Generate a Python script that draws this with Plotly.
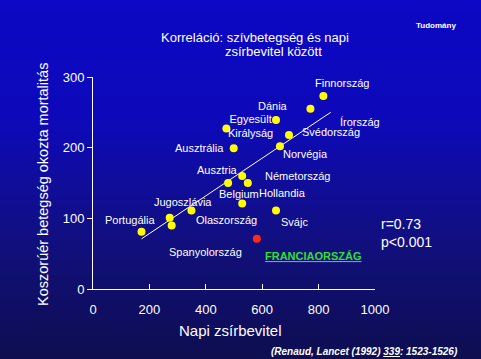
import plotly.graph_objects as go
import numpy as np

# ---- data ----
countries = ["Finnország", "Írország", "Dánia", "Egyesült<br>Királyság", "Svédország",
             "Ausztrália", "Norvégia", "Ausztria", "Belgium", "Németország", "Hollandia",
             "Svájc", "Jugoszlávia", "Olaszország", "Spanyolország", "Portugália"]
fat_intake = [817, 771, 649, 473, 695, 499, 663, 529, 479, 549, 529, 649, 349, 272, 279, 172]
chd_mortality = [273, 255, 239, 227, 218, 199, 202, 160, 150, 150, 121, 111, 111, 101, 90, 81]

france_name = "FRANCIAORSZÁG"
france_fat = [581]
france_chd = [71]

fit_x = [172, 843]
fit_y = [71, 250]

x_ticks = [0, 200, 400, 600, 800, 1000]
y_ticks = [0, 100, 200, 300]

# ---- label pixel offsets (styling) ----
label_offsets = {
    "Finnország": (19, -13), "Írország": (50, 13), "Dánia": (-3, -14),
    "Egyesült<br>Királyság": (24, -3), "Svédország": (42, -3), "Ausztrália": (-34, 0),
    "Norvégia": (26, 8), "Ausztria": (-25, -6), "Belgium": (11, 11),
    "Németország": (50, -7), "Hollandia": (40, -10), "Svájc": (18, 11),
    "Jugoszlávia": (-8, -9), "Olaszország": (57, 2), "Spanyolország": (34, 27),
    "Portugália": (-12, -12),
}

W, H = 481, 359
L, R, T, B = 93, 106, 77, 70
pw, ph = W - L - R, H - T - B

def px(xp):  # pixel x -> paper
    return (xp - L) / pw

def py(yp):  # pixel y -> paper
    return (H - B - yp) / ph

FONT = "Liberation Sans, Arial, sans-serif"

fig = go.Figure()

# gradient background
stops_y = [0, 120, 240, 359]
stops_c = [(12, 8, 196), (14, 10, 186), (18, 16, 128), (14, 14, 80)]
shapes = []
step = 5
for y0 in range(0, H, step):
    ym = y0 + step / 2
    c = [int(np.interp(ym, stops_y, [s[i] for s in stops_c])) for i in range(3)]
    shapes.append(dict(type="rect", xref="paper", yref="paper",
                       x0=px(-2), x1=px(W + 2), y0=py(y0 + step + 0.5), y1=py(y0 - (2 if y0 == 0 else 0)),
                       fillcolor=f"rgb({c[0]},{c[1]},{c[2]})", line=dict(width=0),
                       layer="below"))

fig.add_trace(go.Scatter(x=fit_x, y=fit_y, mode="lines",
                         line=dict(color="white", width=1), hoverinfo="skip"))
fig.add_trace(go.Scatter(x=fat_intake, y=chd_mortality, mode="markers",
                         marker=dict(color="#FFFF00", size=8, symbol="circle"),
                         text=countries))
fig.add_trace(go.Scatter(x=france_fat, y=france_chd, mode="markers",
                         marker=dict(color="#FF2A10", size=8, symbol="circle"),
                         text=[france_name]))

annotations = []
for name, xv, yv in zip(countries, fat_intake, chd_mortality):
    dx, dy = label_offsets[name]
    annotations.append(dict(x=xv, y=yv, xref="x", yref="y", text=name, showarrow=False,
                            xanchor="center", yanchor="middle",
                            xshift=dx, yshift=-dy,
                            font=dict(family=FONT, size=11, color="white")))
annotations.append(dict(x=france_fat[0], y=france_chd[0], xref="x", yref="y",
                        text=f"<b><u>{france_name}</u></b>", showarrow=False,
                        xanchor="center", yanchor="middle",
                        xshift=57, yshift=-17,
                        font=dict(family=FONT, size=11, color="#2EE02E")))

def ptext(xp, yp, text, size, xanchor="center", angle=0):
    return dict(x=px(xp), y=py(yp), xref="paper", yref="paper", showarrow=False,
                xanchor=xanchor, yanchor="middle", text=text, textangle=angle,
                font=dict(family=FONT, size=size, color="white"))

annotations += [
    ptext(254.5, 37, "Korreláció: szívbetegség és napi", 13),
    ptext(273, 52, "zsírbevitel között", 13),
    ptext(435.5, 25, "<b>Tudomány</b>", 8),
    ptext(43, 185, "Koszorúér betegség okozta mortalitás", 14.5, angle=-90),
    ptext(230, 330, "Napi zsírbevitel", 15),
    ptext(379, 224, "r=0.73", 14, xanchor="left"),
    ptext(379, 242, "p<0.001", 14, xanchor="left"),
    ptext(364, 351, "<b><i>(Renaud, Lancet (1992) <u>339</u>: 1523-1526)</i></b>", 10),
]

fig.update_layout(
    width=W, height=H,
    margin=dict(l=L, r=R, t=T, b=B),
    paper_bgcolor="rgb(14,12,150)",
    plot_bgcolor="rgba(0,0,0,0)",
    showlegend=False,
    hovermode=False,
    shapes=shapes,
    annotations=annotations,
    xaxis=dict(range=[0, 1000], tickvals=x_ticks, ticks="inside", ticklen=5,
               tickcolor="white", showline=True, linecolor="white", linewidth=1,
               showgrid=False, zeroline=False, ticklabelstandoff=8,
               tickfont=dict(family=FONT, size=13, color="white")),
    yaxis=dict(range=[0, 300], tickvals=y_ticks, ticks="outside", ticklen=5,
               tickcolor="white", showline=True, linecolor="white", linewidth=1,
               showgrid=False, zeroline=False,
               tickfont=dict(family=FONT, size=13, color="white")),
)

fig.write_html("out.html", config={"displayModeBar": False},
               post_script="document.body.style.margin='0px';document.body.style.overflow='hidden';")
